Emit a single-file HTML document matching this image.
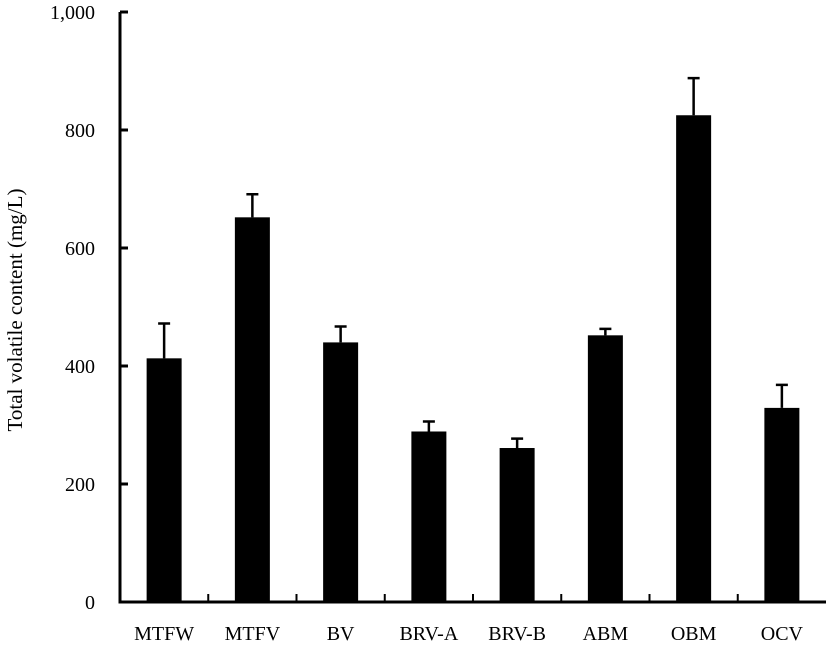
<!DOCTYPE html>
<html><head><meta charset="utf-8"><style>
body{margin:0;background:#fff}
svg text{font-family:"Liberation Serif",serif;fill:#000}
</style></head><body>
<svg id="chart" width="827" height="648" viewBox="0 0 827 648" xmlns="http://www.w3.org/2000/svg">
<g id="axes"></g><g id="bars"></g>
<text transform="translate(22,310) rotate(-90)" text-anchor="middle" font-size="21">Total volatile content (mg/L)</text>
</svg>
<script>
const categories=["MTFW","MTFV","BV","BRV-A","BRV-B","ABM","OBM","OCV"];
const values=[413,652,440,289,261,452,825,329];
const errors=[59,39,27,17,16,11,63,39];
const yTicks=[0,200,400,600,800,1000];
const yTickLabels=["0","200","400","600","800","1,000"];
const NS="http://www.w3.org/2000/svg";
const x0=120,x1=826,y0=602,yTop=12,yMax=1000;
const band=(x1-x0)/categories.length;
function y(v){return y0-(v/yMax)*(y0-yTop);}
function xc(i){return x0+band*(i+0.5);}
function mk(tag,attrs,parent){const e=document.createElementNS(NS,tag);for(const k in attrs)e.setAttribute(k,attrs[k]);parent.appendChild(e);return e;}
const axes=document.getElementById('axes'),bars=document.getElementById('bars');
let l=mk('line',{x1:x0,y1:yTop,x2:x0,y2:y0,stroke:'#000','stroke-width':3},axes);


l=mk('line',{x1:x0-1.5,y1:y0,x2:x1,y2:y0,stroke:'#000','stroke-width':3},axes);


yTicks.forEach((t,i)=>{
 const tk=mk('line',{x1:x0,y1:y(t),x2:x0+8,y2:y(t),stroke:'#000','stroke-width':3},axes);
 
 
 const tx=mk('text',{x:x0-25,y:y(t)+7,'text-anchor':'end','font-size':20},axes);
 tx.textContent=yTickLabels[i];
 
 
});
for(let i=1;i<categories.length;i++){
 const tk=mk('line',{x1:x0+band*i,y1:y0,x2:x0+band*i,y2:y0-8,stroke:'#000','stroke-width':2},axes);
 
 
}
const bw=35;
categories.forEach((c,i)=>{
 const cx=xc(i);
 const r=mk('rect',{x:cx-bw/2,y:y(values[i]),width:bw,height:y0-y(values[i]),fill:'#000'},bars);
 
 
 const e=mk('path',{d:`M${cx},${y(values[i])}V${y(values[i]+errors[i])}M${cx-6},${y(values[i]+errors[i])}H${cx+6}`,stroke:'#000','stroke-width':2.5,fill:'none'},bars);
 
 
 const tx=mk('text',{x:cx,y:640,'text-anchor':'middle','font-size':20},bars);
 tx.textContent=c;
 
 
});
</script>
</body></html>
